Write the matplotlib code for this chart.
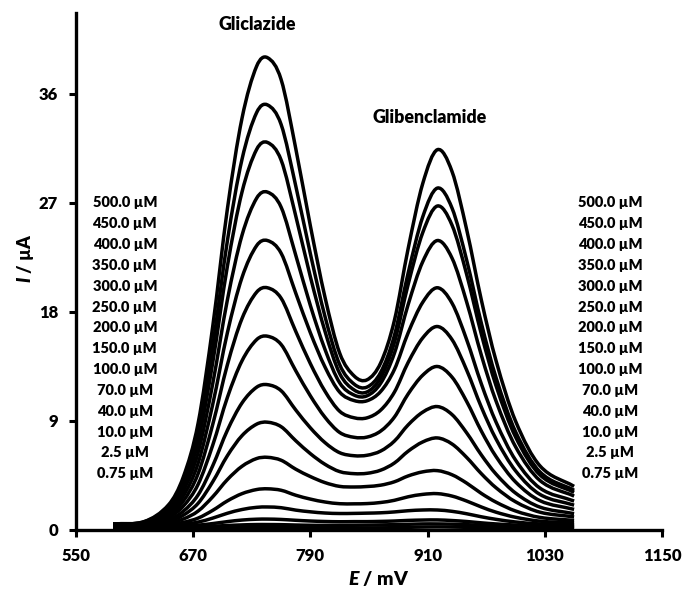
import matplotlib
matplotlib.use("Agg")
import numpy as np
import matplotlib.pyplot as plt
from matplotlib.path import Path
from matplotlib.patches import PathPatch

# Differential pulse voltammograms: gliclazide + glibenclamide mixtures
potential_mV = [588, 620, 645, 660, 675, 690, 705, 720, 735, 746, 760, 775, 790, 805,
                820, 835, 848, 862, 876, 890, 905, 920, 935, 950, 965, 980, 1000, 1025, 1060]

i_blank = [0.12, 0.12, 0.12, 0.13, 0.14, 0.15, 0.17, 0.19, 0.2, 0.2, 0.2, 0.19, 0.17, 0.16,
           0.16, 0.16, 0.17, 0.18, 0.19, 0.22, 0.24, 0.25, 0.24, 0.22, 0.2, 0.18, 0.16, 0.14, 0.13]
i_0p75 = [0.2, 0.2, 0.21, 0.23, 0.25, 0.31, 0.37, 0.42, 0.45, 0.45, 0.44, 0.41, 0.39, 0.38,
          0.38, 0.39, 0.4, 0.42, 0.44, 0.47, 0.5, 0.5, 0.48, 0.44, 0.38, 0.33, 0.28, 0.25, 0.23]
i_2p5 = [0.26, 0.26, 0.29, 0.33, 0.4, 0.53, 0.69, 0.82, 0.89, 0.9, 0.87, 0.8, 0.74, 0.7,
         0.68, 0.69, 0.69, 0.71, 0.74, 0.79, 0.82, 0.83, 0.78, 0.7, 0.59, 0.5, 0.41, 0.35, 0.32]
i_10 = [0.3, 0.31, 0.37, 0.46, 0.65, 0.98, 1.38, 1.69, 1.87, 1.9, 1.84, 1.64, 1.5, 1.4,
        1.36, 1.37, 1.39, 1.42, 1.49, 1.59, 1.65, 1.65, 1.54, 1.34, 1.09, 0.88, 0.66, 0.5, 0.43]
i_40 = [0.32, 0.34, 0.45, 0.63, 0.98, 1.62, 2.4, 3.0, 3.34, 3.4, 3.28, 2.87, 2.55, 2.31,
        2.17, 2.16, 2.18, 2.27, 2.45, 2.74, 2.94, 3.0, 2.8, 2.39, 1.9, 1.47, 1.05, 0.73, 0.58]
i_70 = [0.34, 0.37, 0.58, 0.91, 1.56, 2.74, 4.16, 5.26, 5.9, 6.0, 5.76, 5.02, 4.41, 3.91,
        3.6, 3.55, 3.59, 3.7, 3.98, 4.46, 4.8, 4.9, 4.56, 3.87, 3.02, 2.3, 1.57, 1.04, 0.79]
i_100 = [0.36, 0.4, 0.72, 1.23, 2.2, 3.98, 6.13, 7.79, 8.74, 8.9, 8.53, 7.37, 6.3, 5.42,
         4.82, 4.65, 4.68, 4.94, 5.53, 6.5, 7.27, 7.6, 7.1, 5.99, 4.65, 3.49, 2.33, 1.47, 1.08]
i_150 = [0.38, 0.44, 0.86, 1.56, 2.89, 5.3, 8.23, 10.49, 11.79, 12.0, 11.5, 9.91, 8.43, 7.21,
         6.38, 6.13, 6.17, 6.52, 7.34, 8.67, 9.73, 10.19, 9.53, 8.02, 6.2, 4.62, 3.05, 1.89, 1.35]
i_200 = [0.4, 0.48, 1.05, 1.98, 3.76, 7.0, 10.94, 13.97, 15.72, 16.0, 15.32, 13.15, 11.07, 9.3,
         8.05, 7.65, 7.67, 8.17, 9.32, 11.22, 12.78, 13.5, 12.62, 10.61, 8.17, 6.07, 3.97, 2.42, 1.7]
i_250 = [0.42, 0.52, 1.23, 2.4, 4.64, 8.71, 13.64, 17.46, 19.64, 20.0, 19.14, 16.4, 13.73, 11.45,
         9.8, 9.26, 9.26, 9.9, 11.38, 13.82, 15.86, 16.8, 15.72, 13.2, 10.15, 7.52, 4.89, 2.94, 2.05]
i_300 = [0.44, 0.56, 1.42, 2.82, 5.5, 10.37, 16.28, 20.85, 23.48, 23.9, 22.86, 19.56, 16.28, 13.45,
         11.38, 10.68, 10.67, 11.44, 13.25, 16.26, 18.8, 20.0, 18.73, 15.71, 12.07, 8.92, 5.78, 3.46, 2.39]
i_350 = [0.46, 0.6, 1.6, 3.24, 6.38, 12.08, 18.99, 24.34, 27.4, 27.9, 26.66, 22.69, 18.53, 14.9,
         12.15, 11.13, 11.08, 12.12, 14.59, 18.59, 22.15, 23.9, 22.45, 18.82, 14.44, 10.66, 6.88, 4.09, 2.8]
i_400 = [0.48, 0.64, 1.79, 3.67, 7.28, 13.82, 21.77, 27.91, 31.43, 32.0, 30.55, 25.93, 20.9, 16.39,
         12.92, 11.55, 11.4, 12.59, 15.48, 20.25, 24.55, 26.75, 25.17, 21.1, 16.18, 11.93, 7.69, 4.55, 3.11]
i_450 = [0.5, 0.68, 1.94, 4.0, 7.96, 15.15, 23.87, 30.61, 34.47, 35.1, 33.49, 28.41, 22.8, 17.61,
         13.65, 12.03, 11.8, 13.02, 16.06, 21.19, 25.85, 28.23, 26.58, 22.28, 17.08, 12.6, 8.12, 4.8, 3.28]
i_500 = [0.5, 0.7, 2.1, 4.4, 8.8, 16.8, 26.5, 34.0, 38.3, 39.0, 37.2, 31.5, 25.1, 19.2,
         14.6, 12.7, 12.4, 13.8, 17.3, 23.2, 28.6, 31.4, 29.6, 24.8, 19.0, 14.0, 9.0, 5.3, 3.6]

conc_labels = ["500.0 µM", "450.0 µM", "400.0 µM", "350.0 µM", "300.0 µM", "250.0 µM",
               "200.0 µM", "150.0 µM", "100.0 µM", "70.0 µM", "40.0 µM", "10.0 µM",
               "2.5 µM", "0.75 µM"]
x_ticks = [550, 670, 790, 910, 1030, 1150]
y_ticks = [0, 9, 18, 27, 36]

curves = [i_blank, i_0p75, i_2p5, i_10, i_40, i_70, i_100, i_150, i_200,
          i_250, i_300, i_350, i_400, i_450, i_500]


def smoothed_path(x, y):
    """Cubic Bezier path passing through every (x, y) sample (Hermite tangents)."""
    x = np.asarray(x, float)
    y = np.asarray(y, float)
    n = len(x)
    m = np.empty(n)
    m[1:-1] = (y[2:] - y[:-2]) / (x[2:] - x[:-2])
    m[0] = (y[1] - y[0]) / (x[1] - x[0])
    m[-1] = (y[-1] - y[-2]) / (x[-1] - x[-2])
    verts = [(x[0], y[0])]
    codes = [Path.MOVETO]
    for i in range(n - 1):
        h = x[i + 1] - x[i]
        verts += [(x[i] + h / 3, y[i] + m[i] * h / 3),
                  (x[i + 1] - h / 3, y[i + 1] - m[i + 1] * h / 3),
                  (x[i + 1], y[i + 1])]
        codes += [Path.CURVE4] * 3
    return Path(verts, codes)


WEIGHT = 'heavy'
plt.rcParams['font.family'] = ['Lato', 'DejaVu Sans']
plt.rcParams['font.weight'] = 'bold'
plt.rcParams['mathtext.fontset'] = 'custom'
plt.rcParams['mathtext.it'] = 'Lato:italic:heavy'
plt.rcParams['mathtext.rm'] = 'Lato:heavy'

fig = plt.figure(figsize=(6.82, 5.89), dpi=100)
ax = fig.add_axes([0.1114, 0.1002, 0.8593, 0.878])

for cur in curves:
    ax.add_patch(PathPatch(smoothed_path(potential_mV, cur), fill=False,
                           edgecolor='black', lw=2.5, joinstyle='round',
                           capstyle='butt'))

ax.set_xlim(550, 1150)
ax.set_ylim(0, 42.7)
ax.set_xticks(x_ticks)
ax.set_yticks(y_ticks)
ax.tick_params(axis='both', direction='out', length=5, width=2.2,
               labelsize=12, pad=8, color='black')
for lab in ax.get_xticklabels() + ax.get_yticklabels():
    lab.set_fontweight(WEIGHT)

for side in ('top', 'right'):
    ax.spines[side].set_visible(False)
for side in ('left', 'bottom'):
    ax.spines[side].set_linewidth(2.4)

# concentration annotations on both sides
y0, dy = 27.0, 1.72
for k, txt in enumerate(conc_labels):
    y = y0 - k * dy
    ax.text(600, y, txt, ha='center', va='center', fontsize=10.5, fontweight=WEIGHT)
    ax.text(1097, y, txt, ha='center', va='center', fontsize=10.5, fontweight=WEIGHT)

ax.text(736, 41.75, "Gliclazide", ha='center', va='center', fontsize=12.8, fontweight=WEIGHT)
ax.text(912, 34.05, "Glibenclamide", ha='center', va='center', fontsize=12.8, fontweight=WEIGHT)

fig.text(379 / 682, 1 - 578 / 589, r"$\mathit{E}$ / mV", ha='center', va='center',
         fontsize=14, fontweight=WEIGHT)
fig.text(25 / 682, 1 - 258 / 589, r"$\mathit{I}$ / µA", ha='center', va='center',
         rotation=90, fontsize=13, fontweight=WEIGHT)

fig.savefig("out.png", dpi=100)
